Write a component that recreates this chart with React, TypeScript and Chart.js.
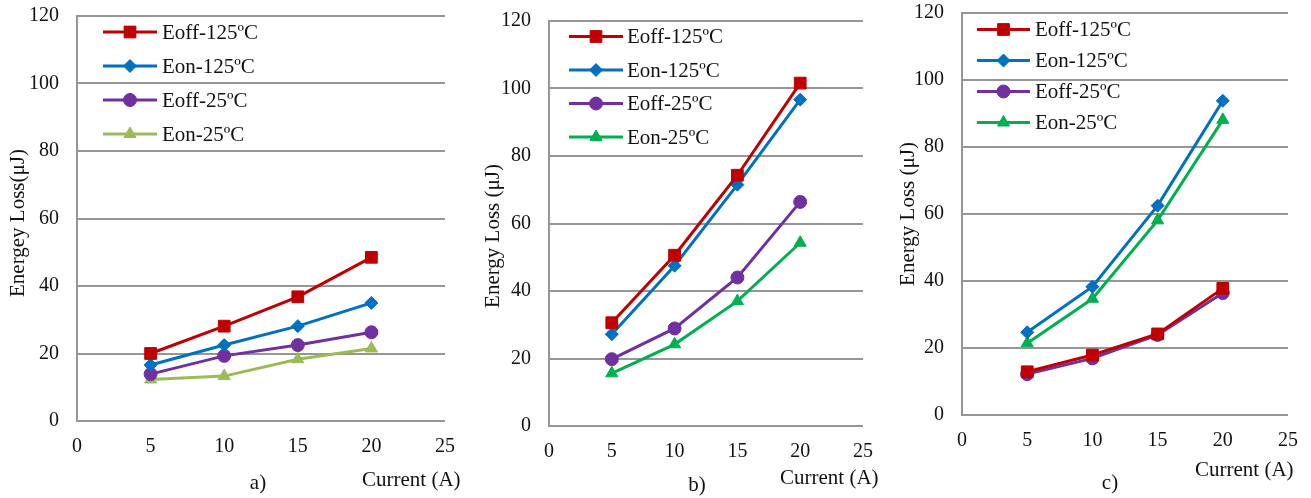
import React, { useEffect, useRef } from 'react';
import { Chart, registerables } from 'chart.js';
Chart.register(...registerables);

// ---------- data ----------
const currents = [5, 10, 15, 20];
const seriesNames = ['Eoff-125ºC', 'Eon-125ºC', 'Eoff-25ºC', 'Eon-25ºC'];

const aEoff125 = [20.0, 28.1, 36.8, 48.5];
const aEon125 = [16.6, 22.5, 28.1, 35.0];
const aEoff25 = [13.9, 19.3, 22.5, 26.3];
const aEon25 = [12.3, 13.3, 18.3, 21.5];

const bEoff125 = [30.6, 50.6, 74.3, 101.6];
const bEon125 = [27.2, 47.5, 71.5, 96.7];
const bEoff25 = [19.8, 28.9, 44.0, 66.4];
const bEon25 = [15.6, 24.2, 37.0, 54.3];

const cEoff125 = [12.9, 17.9, 24.2, 37.8];
const cEon125 = [24.7, 38.3, 62.5, 93.8];
const cEoff25 = [12.2, 16.9, 23.9, 36.4];
const cEon25 = [21.4, 34.7, 58.1, 88.1];

const xMin = 0, xMax = 25, xStep = 5;
const yMin = 0, yMax = 120, yStep = 20;

const yTitles = ['Energey Loss(μJ)', 'Energy Loss (μJ)', 'Energy Loss (μJ)'];
const xTitle = 'Current (A)';
const panelLabels = ['a)', 'b)', 'c)'];

// ---------- styles ----------
const FONT = "'Liberation Serif', 'Times New Roman', serif";
const GRID = '#969696';
const TEXT = '#111111';
const colorsA = ['#C00000', '#0070C0', '#7030A0', '#9BBB59'];
const colorsBC = ['#C00000', '#0070C0', '#7030A0', '#00B050'];
const pointStyles = ['rect', 'rectRot', 'circle', 'triangle'];
const pointRadii = [8.3, 6.5, 6.5, 7];

type PanelLayout = {
  left: number; width: number;
  pad: { left: number; top: number; right: number; bottom: number };
  yW: number; xH: number;
  legend: { x1: number; x2: number; tx: number; y0: number; dy: number };
  yTitle: { x: number; y: number };
  xTitle: { x: number; y: number };
  label: { x: number; y: number };
};

const layouts: PanelLayout[] = [
  {
    left: 0, width: 470, pad: { left: 0, top: 16, right: 25, bottom: 0 }, yW: 77, xH: 77,
    legend: { x1: 26, x2: 80, tx: 85, y0: 16, dy: 34 },
    yTitle: { x: 18, y: 223 }, xTitle: { x: 362, y: 480 }, label: { x: 258, y: 483 },
  },
  {
    left: 470, width: 420, pad: { left: 0, top: 21, right: 27, bottom: 0 }, yW: 79, xH: 72,
    legend: { x1: 20, x2: 74, tx: 78, y0: 15.5, dy: 33.5 },
    yTitle: { x: 23, y: 236 }, xTitle: { x: 310, y: 478 }, label: { x: 227, y: 485 },
  },
  {
    left: 890, width: 421, pad: { left: 0, top: 13, right: 23, bottom: 0 }, yW: 72, xH: 83,
    legend: { x1: 15, x2: 68, tx: 73, y0: 16.5, dy: 31 },
    yTitle: { x: 18, y: 214 }, xTitle: { x: 305, y: 470 }, label: { x: 220, y: 483 },
  },
];

function drawMarker(ctx: CanvasRenderingContext2D, style: string, x: number, y: number, r: number, color: string) {
  ctx.save();
  ctx.fillStyle = color;
  ctx.strokeStyle = color;
  ctx.lineWidth = 1;
  ctx.beginPath();
  if (style === 'rect') {
    const s = Math.SQRT1_2 * r;
    ctx.rect(x - s, y - s, 2 * s, 2 * s);
  } else if (style === 'rectRot') {
    ctx.moveTo(x - r, y); ctx.lineTo(x, y - r); ctx.lineTo(x + r, y); ctx.lineTo(x, y + r); ctx.closePath();
  } else if (style === 'circle') {
    ctx.arc(x, y, r, 0, Math.PI * 2);
  } else {
    const w = r * Math.sin(Math.PI / 3);
    ctx.moveTo(x, y - r); ctx.lineTo(x + w, y + r / 2); ctx.lineTo(x - w, y + r / 2); ctx.closePath();
  }
  ctx.fill();
  ctx.stroke();
  ctx.restore();
}

function Panel({ idx, series, colors }: { idx: number; series: number[][]; colors: string[] }) {
  const ref = useRef<HTMLCanvasElement>(null);
  const L = layouts[idx];
  useEffect(() => {
    if (!ref.current) return;
    const overlay = {
      id: 'overlay' + idx,
      afterDraw(chart: any) {
        const ctx = chart.ctx as CanvasRenderingContext2D;
        const ca = chart.chartArea;
        ctx.save();
        // legend
        ctx.font = `21px ${FONT}`;
        ctx.textBaseline = 'middle';
        ctx.textAlign = 'left';
        seriesNames.forEach((name, i) => {
          const y = ca.top + L.legend.y0 + i * L.legend.dy;
          ctx.strokeStyle = colors[i];
          ctx.lineWidth = 3;
          ctx.beginPath();
          ctx.moveTo(ca.left + L.legend.x1, y);
          ctx.lineTo(ca.left + L.legend.x2, y);
          ctx.stroke();
          drawMarker(ctx, pointStyles[i], ca.left + (L.legend.x1 + L.legend.x2) / 2, y, pointRadii[i], colors[i]);
          ctx.fillStyle = TEXT;
          ctx.fillText(name, ca.left + L.legend.tx, y + 1);
        });
        // y title
        ctx.save();
        ctx.translate(L.yTitle.x, L.yTitle.y);
        ctx.rotate(-Math.PI / 2);
        ctx.textAlign = 'center';
        ctx.fillStyle = TEXT;
        ctx.fillText(yTitles[idx], 0, 0);
        ctx.restore();
        // x title and panel label
        ctx.fillStyle = TEXT;
        ctx.textAlign = 'left';
        ctx.fillText(xTitle, L.xTitle.x, L.xTitle.y);
        ctx.textAlign = 'center';
        ctx.fillText(panelLabels[idx], L.label.x, L.label.y);
        ctx.restore();
      },
    };
    const chart = new Chart(ref.current, {
      type: 'line',
      data: {
        datasets: series.map((vals, i) => ({
          label: seriesNames[i],
          data: currents.map((c, j) => ({ x: c, y: vals[j] })),
          borderColor: colors[i],
          backgroundColor: colors[i],
          borderWidth: 3,
          pointStyle: pointStyles[i] as any,
          pointRadius: pointRadii[i],
          pointBorderWidth: 1,
          pointBorderColor: colors[i],
          pointBackgroundColor: colors[i],
          tension: 0,
          fill: false,
        })),
      },
      options: {
        animation: false,
        responsive: false,
        devicePixelRatio: 1,
        layout: { padding: L.pad },
        plugins: { legend: { display: false }, tooltip: { enabled: false }, title: { display: false } },
        scales: {
          x: {
            type: 'linear', min: xMin, max: xMax,
            afterFit: (s: any) => { s.height = L.xH; s.paddingLeft = 0; s.paddingRight = 0; },
            grid: { display: false, drawTicks: false },
            border: { display: false },
            ticks: { stepSize: xStep, padding: 14, color: TEXT, font: { family: FONT, size: 20 } },
          },
          y: {
            type: 'linear', min: yMin, max: yMax,
            afterFit: (s: any) => { s.width = L.yW; s.paddingTop = 0; s.paddingBottom = 0; },
            grid: { color: GRID, lineWidth: 2, drawTicks: false },
            border: { display: true, color: GRID, width: 2 },
            ticks: { stepSize: yStep, padding: 18, color: TEXT, font: { family: FONT, size: 20 } },
          },
        },
      },
      plugins: [overlay],
    });
    return () => chart.destroy();
  }, []);
  return (
    <div style={{ position: 'absolute', left: L.left, top: 0, width: L.width, height: 498 }}>
      <canvas ref={ref} width={L.width} height={498} style={{ width: L.width, height: 498, display: 'block' }} />
    </div>
  );
}

export default function App() {
  return (
    <div style={{ position: 'fixed', left: 0, top: 0, width: 1311, height: 498, background: '#ffffff', overflow: 'hidden' }}>
      <Panel idx={0} series={[aEoff125, aEon125, aEoff25, aEon25]} colors={colorsA} />
      <Panel idx={1} series={[bEoff125, bEon125, bEoff25, bEon25]} colors={colorsBC} />
      <Panel idx={2} series={[cEoff125, cEon125, cEoff25, cEon25]} colors={colorsBC} />
    </div>
  );
}
